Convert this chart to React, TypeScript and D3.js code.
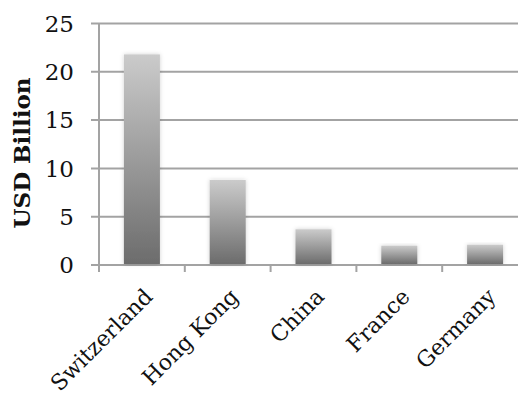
import React from "react";
import * as d3 from "d3";

const categories = ["Switzerland", "Hong Kong", "China", "France", "Germany"];
const values = [21.8, 8.8, 3.7, 2.0, 2.1];
const yTicks = [0, 5, 10, 15, 20, 25];
const yLabel = "USD Billion";

export default function App() {
  const W = 518, H = 393;
  const x0 = 99, x1 = 528;
  const y0 = 265, y1 = 23.5;
  const x = d3.scaleBand<string>().domain(categories).range([x0, x1]).paddingInner(0.58).paddingOuter(0.29);
  const y = d3.scaleLinear().domain([0, 25]).range([y0, y1]);
  const step = (x1 - x0) / categories.length;
  const font = "'DejaVu Serif', serif";
  const grid = "#a3a3a3";
  return (
    <svg width={W} height={H} style={{ position: "absolute", left: 0, top: 0, background: "#fff" }}>
      <defs>
        <linearGradient id="barGrad" x1="0" y1="1" x2="0" y2="0">
          <stop offset="0%" stopColor="#6c6c6c" />
          <stop offset="100%" stopColor="#cbcbcb" />
        </linearGradient>
        <filter id="sh" x="-30%" y="-10%" width="160%" height="120%">
          <feDropShadow dx="0" dy="0" stdDeviation="2" floodColor="#000" floodOpacity="0.18" />
        </filter>
      </defs>
      {yTicks.map((t) => (
        <g key={t}>
          <line x1={x0 - 8} x2={t === 0 ? x1 : W} y1={y(t)} y2={y(t)} stroke={grid} strokeWidth={2} />
          <text x={74} y={y(t)} dy="0.36em" textAnchor="end" fontFamily={font} fontSize={23} fill="#111">{t}</text>
        </g>
      ))}
      <line x1={x0} x2={x0} y1={y1} y2={y0 + 7} stroke={grid} strokeWidth={2} />
      {categories.map((c, i) => (
        <line key={"t" + c} x1={x0 + step * (i + 1)} x2={x0 + step * (i + 1)} y1={y0} y2={y0 + 7} stroke={grid} strokeWidth={2} />
      ))}
      {categories.map((c, i) => (
        <rect key={c} x={x(c)!} width={x.bandwidth()} y={y(values[i])} height={y(0) - y(values[i]) - 1} fill="url(#barGrad)" filter="url(#sh)" />
      ))}
      {categories.map((c) => {
        const cx = x(c)! + x.bandwidth() / 2;
        return (
          <text key={"l" + c} transform={`translate(${cx + 12},${y0 + 33}) rotate(-45)`} textAnchor="end" fontFamily={font} fontSize={22} fill="#111">{c}</text>
        );
      })}
      <text transform={`translate(30,153) rotate(-90)`} textAnchor="middle" fontFamily={font} fontWeight="bold" fontSize={23} fill="#111">{yLabel}</text>
    </svg>
  );
}
